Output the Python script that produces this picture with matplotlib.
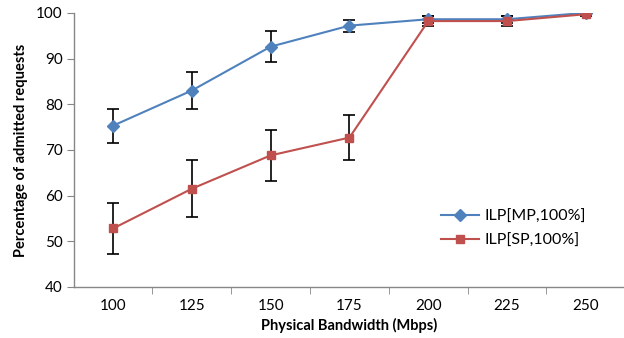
import numpy as np
import matplotlib.pyplot as plt
from matplotlib.lines import Line2D

plt.rcParams['font.family'] = ['Lato', 'DejaVu Sans']

bandwidth = ['100', '125', '150', '175', '200', '225', '250']
mp_values = [75.3, 83.0, 92.6, 97.2, 98.6, 98.6, 100.0]
mp_err = [3.7, 4.1, 3.45, 1.3, 0.8, 0.8, 0.3]
sp_values = [52.8, 61.5, 68.8, 72.7, 98.2, 98.2, 99.7]
sp_err = [5.6, 6.2, 5.5, 5.0, 1.1, 1.1, 0.3]

blue = '#4F81BD'
red = '#C0504D'
axis_gray = '#868686'

fig = plt.figure(figsize=(6.24, 3.38), dpi=100)
ax = fig.add_axes([0.118, 0.151, 0.884, 0.811])

x = np.arange(len(bandwidth))

ax.errorbar(x, mp_values, yerr=mp_err, color=blue, ecolor='black', elinewidth=1.2,
            capsize=4, capthick=1.2, linewidth=1.5, marker='D', markersize=6,
            zorder=3)
ax.errorbar(x, sp_values, yerr=sp_err, color=red, ecolor='black', elinewidth=1.2,
            capsize=4, capthick=1.2, linewidth=1.5, marker='s', markersize=6,
            zorder=3)

ax.set_xlim(-0.5, len(bandwidth) - 0.5)
ax.set_ylim(40, 100)
ax.set_yticks(np.arange(40, 101, 10))
ax.set_xticks(x)
ax.set_xticklabels(bandwidth)
ax.set_xticks(np.arange(0.5, len(bandwidth) - 1, 1), minor=True)

for side in ['top', 'right']:
    ax.spines[side].set_visible(False)
for side in ['left', 'bottom']:
    ax.spines[side].set_color(axis_gray)
    ax.spines[side].set_linewidth(1.0)

ax.tick_params(axis='x', which='major', length=0, pad=9, labelsize=11)
ax.tick_params(axis='x', which='minor', length=5, color=axis_gray, direction='out')
ax.tick_params(axis='y', length=5, color=axis_gray, direction='out', pad=3, labelsize=11)

ax.set_xlabel('Physical Bandwidth (Mbps)', fontsize=10.5, fontweight='bold', labelpad=3)
ax.set_ylabel('Percentage of admitted requests', fontsize=10.5, fontweight='bold', labelpad=6)

handles = [
    Line2D([], [], color=blue, linewidth=1.5, marker='D', markersize=6),
    Line2D([], [], color=red, linewidth=1.5, marker='s', markersize=6),
]
ax.legend(handles, ['ILP[MP,100%]', 'ILP[SP,100%]'], loc='center left',
          bbox_to_anchor=(0.64, 0.212), frameon=False, fontsize=11.5,
          handlelength=2.4, handletextpad=0.3, labelspacing=0.6)

fig.savefig('out.png', dpi=100)
